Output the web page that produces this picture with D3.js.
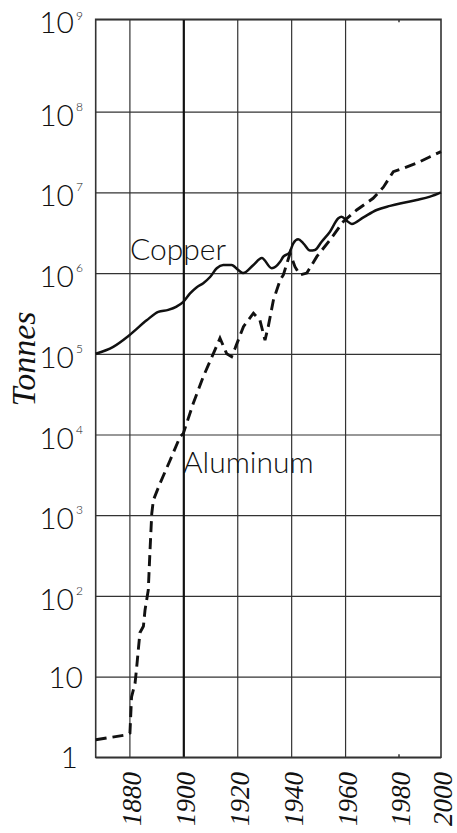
<!DOCTYPE html>
<html>
<head>
<meta charset="utf-8">
<script src="https://cdn.jsdelivr.net/npm/d3@7"></script>
<style>
  html, body { margin: 0; padding: 0; background: #fff; }
  svg { display: block; }
</style>
</head>
<body>
<svg id="chart" width="457" height="833"></svg>
<script>
// ---- data ----
const copperYears = [1867.5, 1874, 1880, 1886.4, 1890.7, 1894.4, 1897.5, 1900, 1902.5, 1905, 1907.4, 1910, 1912.4, 1914.8, 1917.9, 1920.4, 1922.2, 1926, 1929.1, 1932.8, 1935.9, 1937.1, 1939.3, 1940.8, 1942.6, 1944.5, 1947, 1948.8, 1951.3, 1954.4, 1957.5, 1958.7, 1960.6, 1962.5, 1966.8, 1971.7, 1976.7, 1980.5, 1988.4, 1994.8, 2000];
const copperTonnes = [1.0e5, 1.22e5, 1.7e5, 2.6e5, 3.3e5, 3.5e5, 3.85e5, 4.4e5, 5.6e5, 6.7e5, 7.5e5, 9.0e5, 1.15e6, 1.26e6, 1.26e6, 1.09e6, 1.0e6, 1.26e6, 1.54e6, 1.15e6, 1.38e6, 1.6e6, 1.79e6, 2.34e6, 2.62e6, 2.34e6, 1.9e6, 1.93e6, 2.45e6, 3.26e6, 4.78e6, 5.0e6, 4.46e6, 4.06e6, 4.9e6, 6.05e6, 6.8e6, 7.3e6, 8.05e6, 8.85e6, 1.0e7];

const aluminumYears = [1867.5, 1879, 1880.2, 1880.8, 1882.1, 1882.7, 1883.9, 1885.2, 1885.8, 1887, 1887.6, 1888.3, 1888.9, 1891.4, 1895.1, 1898.8, 1900, 1903.7, 1907.4, 1911.1, 1913.6, 1916.1, 1917.9, 1919.2, 1922.3, 1926, 1928.4, 1930.3, 1931.5, 1933.4, 1935.9, 1937.1, 1939.6, 1941.4, 1943.3, 1945.8, 1949.5, 1954.4, 1959.3, 1964.3, 1970.4, 1974.2, 1977.9, 1982, 1988.4, 1994.8, 2000];
const aluminumTonnes = [1.65, 1.9, 2.0, 5.6, 8.3, 13, 35, 42, 67, 118, 340, 1050, 1540, 2500, 4800, 9400, 1.03e4, 2.44e4, 5.2e4, 1.0e5, 1.56e5, 1.0e5, 9.2e4, 1.17e5, 2.17e5, 3.18e5, 2.62e5, 1.48e5, 2.17e5, 4.6e5, 8.2e5, 9.5e5, 1.76e6, 1.2e6, 9.5e5, 1.0e6, 1.6e6, 2.57e6, 4.33e6, 6.05e6, 8.45e6, 1.16e7, 1.81e7, 1.99e7, 2.3e7, 2.77e7, 3.2e7];

const yExponents = [0, 1, 2, 3, 4, 5, 6, 7, 8, 9];
const xTickYears = [1880, 1900, 1920, 1940, 1960, 1980, 2000];
const xGridYears = [1880, 1900, 1920, 1940, 1960];
const seriesLabels = ["Copper", "Aluminum"];
const yTitle = "Tonnes";

// ---- scales ----
const x = d3.scaleLinear().domain([1867.5, 1980, 2000]).range([95.7, 399, 441]);
const y = d3.scaleLog().domain([1, 1e8, 1e9]).range([757.3, 111.7, 19.3]);

const svg = d3.select("#chart");
const x0 = x(1867.5), x1 = x(2000), yTop = y(1e9), yBot = y(1);

// horizontal gridlines via axis
const yAxis = d3.axisLeft(y)
  .tickValues(yExponents.map(e => Math.pow(10, e)))
  .tickSize(-(x1 - x0))
  .tickFormat("");
const gy = svg.append("g").attr("transform", `translate(${x0},0)`).call(yAxis);
gy.select(".domain").remove();
gy.selectAll(".tick line").attr("stroke", "#333").attr("stroke-width", 1.2);

// vertical gridlines via axis
const xAxis = d3.axisBottom(x)
  .tickValues(xGridYears)
  .tickSize(-(yBot - yTop))
  .tickFormat("");
const gx = svg.append("g").attr("transform", `translate(0,${yBot})`).call(xAxis);
gx.select(".domain").remove();
gx.selectAll(".tick line")
  .attr("stroke", d => d === 1900 ? "#111" : "#333")
  .attr("stroke-width", d => d === 1900 ? 2.2 : 1.2);

// small 1980 ticks
[yTop, yBot].forEach((yy, i) => {
  svg.append("line")
    .attr("x1", x(1980)).attr("x2", x(1980))
    .attr("y1", yy).attr("y2", i === 0 ? yy + 3 : yy - 3)
    .attr("stroke", "#333").attr("stroke-width", 1.5);
});

// frame
svg.append("rect")
  .attr("x", x0).attr("y", yTop)
  .attr("width", x1 - x0).attr("height", yBot - yTop)
  .attr("fill", "none").attr("stroke", "#333").attr("stroke-width", 1.6);

// series
const copper = copperYears.map((yr, i) => [yr, copperTonnes[i]]);
const aluminum = aluminumYears.map((yr, i) => [yr, aluminumTonnes[i]]);
const smooth = d3.line().x(d => x(d[0])).y(d => y(d[1])).curve(d3.curveMonotoneX);
const line = d3.line().x(d => x(d[0])).y(d => y(d[1]));

svg.append("path")
  .attr("d", smooth(copper))
  .attr("fill", "none").attr("stroke", "#111").attr("stroke-width", 2.5)
  .attr("stroke-linejoin", "round");

svg.append("path")
  .attr("d", line(aluminum))
  .attr("fill", "none").attr("stroke", "#111").attr("stroke-width", 2.9)
  .attr("stroke-dasharray", "11,6");

// y labels
const labelFont = "Lato, 'Open Sans', sans-serif";
const yl = svg.append("g").attr("font-family", labelFont).attr("font-weight", 300).attr("fill", "#111");
yExponents.forEach(e => {
  const gyv = y(Math.pow(10, e));
  if (e >= 2) {
    yl.append("text").attr("x", 74).attr("y", gyv + 14).attr("text-anchor", "end")
      .attr("font-size", 30).text("10");
    yl.append("text").attr("x", 76).attr("y", gyv + (e === 9 ? 1 : -1)).attr("text-anchor", "start")
      .attr("font-size", 12).text(String(e));
  } else if (e === 1) {
    yl.append("text").attr("x", 83).attr("y", gyv + 11).attr("text-anchor", "end")
      .attr("font-size", 30).text("10");
  } else {
    yl.append("text").attr("x", 78).attr("y", gyv + 11).attr("text-anchor", "end")
      .attr("font-size", 30).text("1");
  }
});

// x labels
const xl = svg.append("g").attr("font-family", "'Liberation Serif', 'Times New Roman', serif")
  .attr("font-style", "italic").attr("font-size", 27).attr("fill", "#111");
xTickYears.forEach(yr => {
  xl.append("text")
    .attr("transform", `translate(${x(yr) + 2},772) rotate(-90)`)
    .attr("text-anchor", "end").attr("dy", "0.35em")
    .text(String(yr));
});

// y title
svg.append("text")
  .attr("transform", "translate(35,359) rotate(-90)")
  .attr("text-anchor", "middle")
  .attr("font-family", "'Liberation Serif', 'Times New Roman', serif")
  .attr("font-style", "italic").attr("font-size", 34).attr("fill", "#111")
  .text(yTitle);

// series labels
svg.append("text").attr("x", 130).attr("y", 260)
  .attr("font-family", labelFont).attr("font-weight", 300).attr("font-size", 30).attr("fill", "#111")
  .text(seriesLabels[0]);
svg.append("text").attr("x", 183).attr("y", 473)
  .attr("font-family", labelFont).attr("font-weight", 300).attr("font-size", 30).attr("fill", "#111")
  .text(seriesLabels[1]);
</script>
</body>
</html>
